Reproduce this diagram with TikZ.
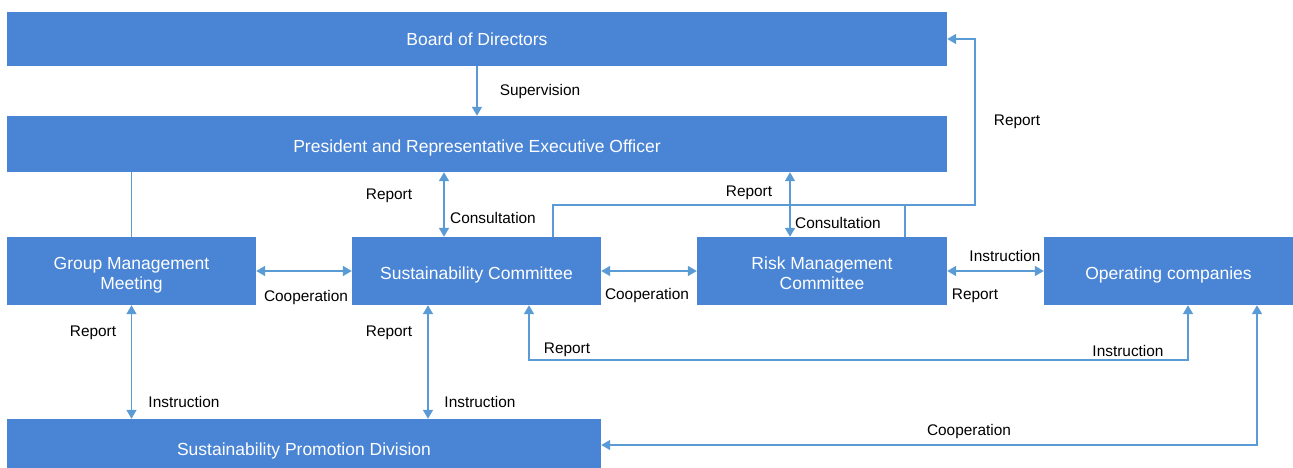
\documentclass[tikz,border=0pt]{standalone}
\usepackage{fontspec}
\setmainfont{Liberation Sans}
\usetikzlibrary{arrows.meta}
\definecolor{boxblue}{RGB}{74,132,212}
\definecolor{lineblue}{RGB}{91,155,213}
\newcommand{\twolines}[2]{\raisebox{0pt}[36.6pt][0pt]{\vbox{\baselineskip=20pt\lineskiplimit=-100pt\halign{\hfil##\hfil\cr #1\cr #2\cr}}}}
\begin{document}
\begin{tikzpicture}[x=1pt,y=-1pt,
  box/.style={fill=boxblue,draw=none,inner sep=0pt,text=white,align=center,
    font=\fontsize{17.5}{20}\selectfont,text depth=0pt},
  conn/.style={draw=lineblue,line width=1.5pt,
    arrows={-}, >={Triangle[length=9pt,width=10pt]}},
  lab/.style={inner sep=0pt,text=black,yshift=-2pt,font=\fontsize{15.4}{18}\selectfont}]
\useasboundingbox (0,0) rectangle (1293,468);
\node[box,minimum width=940pt,minimum height=54pt,text height=14pt] (board) at (477,39) {Board of Directors};
\node[box,minimum width=940pt,minimum height=56pt,text height=16.6pt] (pres) at (477,144) {President and Representative Executive Officer};
\node[box,minimum width=249pt,minimum height=68pt] (gmm) at (131.5,271) {\twolines{Group Management}{Meeting}};
\node[box,minimum width=249pt,minimum height=68pt,text height=16pt] (sc) at (476.5,271) {Sustainability Committee};
\node[box,minimum width=250pt,minimum height=68pt] (rmc) at (822,271) {\twolines{Risk Management}{Committee}};
\node[box,minimum width=249pt,minimum height=68pt,text height=16pt] (oc) at (1168.5,271) {Operating companies};
\node[box,minimum width=594pt,minimum height=49pt,text height=23pt] (spd) at (304,443.5) {Sustainability Promotion Division};

\coordinate (xa) at (444,0);
\coordinate (xb) at (790,0);
\coordinate (xc) at (553,0);
\coordinate (xd) at (905,0);
\coordinate (r1) at (975,205);
\coordinate (xe) at (428,0);
\coordinate (b1) at (529,360);
\coordinate (b2) at (1188,360);
\coordinate (c1) at (1257,445);

\draw[conn,->] (board.south) -- (pres.north);
\draw[conn] (gmm.north) -- (gmm.north |- pres.south);
\draw[conn,<->] (xa |- pres.south) -- (xa |- sc.north);
\draw[conn,<->] (xb |- pres.south) -- (xb |- rmc.north);
\draw[conn,->] (xc |- sc.north) |- (r1) |- (board.east);
\draw[conn] (xd |- rmc.north) -- (xd |- r1);
\draw[conn,<->] (gmm.east) -- (sc.west);
\draw[conn,<->] (sc.east) -- (rmc.west);
\draw[conn,<->] (rmc.east) -- (oc.west);
\draw[conn,<->] (gmm.south) -- (gmm.south |- spd.north);
\draw[conn,<->] (xe |- sc.south) -- (xe |- spd.north);
\draw[conn,<->] (b1 |- sc.south) -- (b1) -- (b2) -- (b2 |- oc.south);
\draw[conn,<->] (c1 |- oc.south) -- (c1) -- (c1 -| spd.east);

\node[lab] (l1) at (540,90) {Supervision};
\node[lab] (l2) at (389,194) {Report};
\node[lab] (l3) at (493,216) {Consultation};
\node[lab] (l4) at (749,191) {Report};
\node[lab] (l5) at (838,221) {Consultation};
\node[lab] (l6) at (1017,120) {Report};
\node[lab] (l7) at (306,296) {Cooperation};
\node[lab] (l8) at (647,294) {Cooperation};
\node[lab] (l9) at (1005,254) {Instruction};
\node[lab] (l10) at (975,294) {Report};
\node[lab] (l11) at (93,331) {Report};
\node[lab] (l12) at (184,400) {Instruction};
\node[lab] (l13) at (389,331) {Report};
\node[lab] (l14) at (480,400) {Instruction};
\node[lab] (l15) at (567,348) {Report};
\node[lab] (l16) at (1128,349) {Instruction};
\node[lab] (l17) at (969,430) {Cooperation};
\end{tikzpicture}
\end{document}
